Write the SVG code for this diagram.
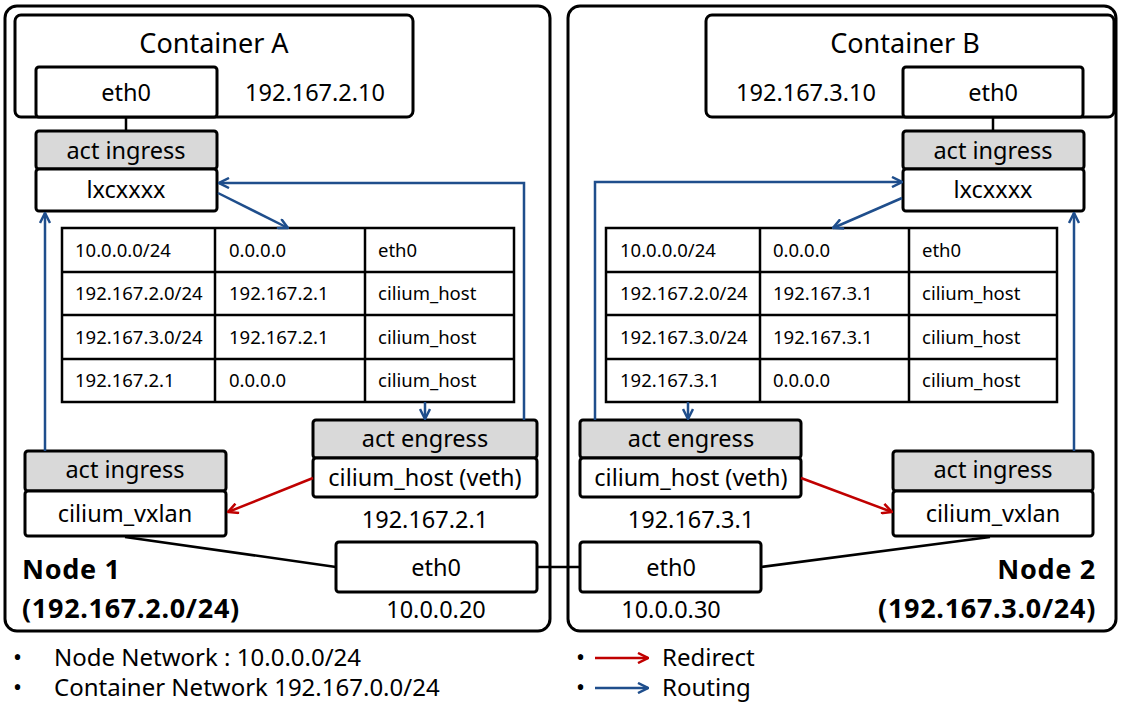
<svg xmlns="http://www.w3.org/2000/svg" width="1122" height="707" viewBox="0 0 1122 707">
<defs>
<style>
.node{fill:#fff;stroke:#000;stroke-width:3}
.box{fill:#fff;stroke:#000;stroke-width:3}
.hdr{fill:#d9d9d9;stroke:#000;stroke-width:3}
.t{font-family:"Noto Sans","Noto Sans CJK KR",sans-serif;font-size:23.5px;fill:#000}
.c{text-anchor:middle}
.r{text-anchor:end}
.b{font-weight:bold;font-size:27px;letter-spacing:0.7px}
.ttl{font-size:27px}
.lg{font-size:24px}
.tt{font-family:"Noto Sans","Noto Sans CJK KR",sans-serif;font-size:18.5px;fill:#000}
.grid{fill:#fff;stroke:#000;stroke-width:2.5}
.gl{stroke:#000;stroke-width:2.5}
.blue{fill:none;stroke:#1f4e8c;stroke-width:2.5}
.red{fill:none;stroke:#c00000;stroke-width:2.5}
.blk{fill:none;stroke:#000;stroke-width:2.5}
</style>
<marker id="ab" viewBox="0 0 12 12" refX="11" refY="6" markerWidth="12" markerHeight="12" markerUnits="userSpaceOnUse" orient="auto">
<path d="M1,1 L11,6 L1,11" fill="none" stroke="#1f4e8c" stroke-width="2.5"/>
</marker>
<marker id="ar" viewBox="0 0 12 12" refX="11" refY="6" markerWidth="12" markerHeight="12" markerUnits="userSpaceOnUse" orient="auto">
<path d="M1,1 L11,6 L1,11" fill="none" stroke="#c00000" stroke-width="2.5"/>
</marker>
</defs>
<rect width="1122" height="707" fill="#fff"/>

<g id="node1">
<rect class="node" x="5" y="6" width="545" height="625" rx="12"/>
<text class="t b" x="22" y="579">Node 1</text>
<text class="t b" x="22" y="618">(192.167.2.0/24)</text>
</g>
<g id="node2">
<rect class="node" x="568" y="6" width="548" height="625" rx="12"/>
<text class="t b r" x="1096" y="579">Node 2</text>
<text class="t b r" x="1096" y="618">(192.167.3.0/24)</text>
</g>

<g id="containerA">
<rect class="box" x="15" y="15" width="398" height="102" rx="6"/>
<text class="t c ttl" x="214" y="53">Container A</text>
<rect class="box" x="36" y="67" width="181" height="50" rx="3"/>
<text class="t c" x="126" y="101">eth0</text>
<text class="t c" x="315" y="101">192.167.2.10</text>
</g>
<g id="lxcA">
<rect class="hdr" x="36" y="131" width="181" height="38" rx="3"/>
<rect class="box" x="36" y="169" width="181" height="42" rx="3"/>
<text class="t c" x="126" y="159">act ingress</text>
<text class="t c" x="126" y="198">lxcxxxx</text>
</g>
<g id="tableA">
<rect class="grid" x="62" y="228" width="452" height="174"/>
<line class="gl" x1="62" y1="272" x2="514" y2="272"/>
<line class="gl" x1="62" y1="315" x2="514" y2="315"/>
<line class="gl" x1="62" y1="359" x2="514" y2="359"/>
<line class="gl" x1="215" y1="228" x2="215" y2="402"/>
<line class="gl" x1="365" y1="228" x2="365" y2="402"/>
<text class="tt" x="75" y="257">10.0.0.0/24</text>
<text class="tt" x="229" y="257">0.0.0.0</text>
<text class="tt" x="378" y="257">eth0</text>
<text class="tt" x="75" y="300">192.167.2.0/24</text>
<text class="tt" x="229" y="300">192.167.2.1</text>
<text class="tt" x="378" y="300">cilium_host</text>
<text class="tt" x="75" y="344">192.167.3.0/24</text>
<text class="tt" x="229" y="344">192.167.2.1</text>
<text class="tt" x="378" y="344">cilium_host</text>
<text class="tt" x="75" y="387">192.167.2.1</text>
<text class="tt" x="229" y="387">0.0.0.0</text>
<text class="tt" x="378" y="387">cilium_host</text>
</g>
<g id="hostA">
<rect class="hdr" x="313" y="420" width="224" height="38" rx="3"/>
<rect class="box" x="313" y="458" width="224" height="39" rx="3"/>
<text class="t c" x="425" y="447">act engress</text>
<text class="t c" x="425" y="486">cilium_host (veth)</text>
<text class="t c" x="425" y="528">192.167.2.1</text>
</g>
<g id="vxlanA">
<rect class="hdr" x="25" y="451" width="201" height="40" rx="3"/>
<rect class="box" x="25" y="491" width="201" height="45" rx="3"/>
<text class="t c" x="125" y="478">act ingress</text>
<text class="t c" x="125" y="522">cilium_vxlan</text>
</g>
<g id="eth0A">
<rect class="box" x="336" y="542" width="201" height="50" rx="3"/>
<text class="t c" x="436" y="576">eth0</text>
<text class="t c" x="436" y="618">10.0.0.20</text>
</g>

<g id="containerB">
<rect class="box" x="706" y="15" width="408" height="102" rx="6"/>
<text class="t c ttl" x="905" y="53">Container B</text>
<rect class="box" x="903" y="67" width="180" height="50" rx="3"/>
<text class="t c" x="993" y="101">eth0</text>
<text class="t c" x="806" y="101">192.167.3.10</text>
</g>
<g id="lxcB">
<rect class="hdr" x="903" y="131" width="181" height="38" rx="3"/>
<rect class="box" x="903" y="169" width="181" height="42" rx="3"/>
<text class="t c" x="993" y="159">act ingress</text>
<text class="t c" x="993" y="198">lxcxxxx</text>
</g>
<g id="tableB">
<rect class="grid" x="606" y="228" width="451" height="174"/>
<line class="gl" x1="606" y1="272" x2="1057" y2="272"/>
<line class="gl" x1="606" y1="315" x2="1057" y2="315"/>
<line class="gl" x1="606" y1="359" x2="1057" y2="359"/>
<line class="gl" x1="760" y1="228" x2="760" y2="402"/>
<line class="gl" x1="909" y1="228" x2="909" y2="402"/>
<text class="tt" x="620" y="257">10.0.0.0/24</text>
<text class="tt" x="773" y="257">0.0.0.0</text>
<text class="tt" x="922" y="257">eth0</text>
<text class="tt" x="620" y="300">192.167.2.0/24</text>
<text class="tt" x="773" y="300">192.167.3.1</text>
<text class="tt" x="922" y="300">cilium_host</text>
<text class="tt" x="620" y="344">192.167.3.0/24</text>
<text class="tt" x="773" y="344">192.167.3.1</text>
<text class="tt" x="922" y="344">cilium_host</text>
<text class="tt" x="620" y="387">192.167.3.1</text>
<text class="tt" x="773" y="387">0.0.0.0</text>
<text class="tt" x="922" y="387">cilium_host</text>
</g>
<g id="hostB">
<rect class="hdr" x="580" y="420" width="221" height="38" rx="3"/>
<rect class="box" x="580" y="458" width="221" height="39" rx="3"/>
<text class="t c" x="691" y="447">act engress</text>
<text class="t c" x="691" y="486">cilium_host (veth)</text>
<text class="t c" x="691" y="528">192.167.3.1</text>
</g>
<g id="vxlanB">
<rect class="hdr" x="893" y="451" width="200" height="40" rx="3"/>
<rect class="box" x="893" y="491" width="200" height="45" rx="3"/>
<text class="t c" x="993" y="478">act ingress</text>
<text class="t c" x="993" y="522">cilium_vxlan</text>
</g>
<g id="eth0B">
<rect class="box" x="580" y="542" width="181" height="50" rx="3"/>
<text class="t c" x="671" y="576">eth0</text>
<text class="t c" x="671" y="618">10.0.0.30</text>
</g>

<g id="connectors">
<line class="blk" x1="126" y1="117" x2="126" y2="131"/>
<line class="blk" x1="993" y1="117" x2="993" y2="131"/>
<line class="blue" x1="218" y1="193" x2="288" y2="228" marker-end="url(#ab)"/>
<polyline class="blue" points="524,420 524,183 219,183" marker-end="url(#ab)"/>
<line class="blue" x1="425" y1="402" x2="425" y2="419" marker-end="url(#ab)"/>
<line class="blue" x1="45" y1="451" x2="45" y2="213" marker-end="url(#ab)"/>
<line class="red" x1="313" y1="478" x2="228" y2="512" marker-end="url(#ar)"/>
<line class="blk" x1="125" y1="537" x2="336" y2="567"/>
<line class="blk" x1="537" y1="567" x2="580" y2="567"/>
<line class="blue" x1="902" y1="198" x2="833" y2="228" marker-end="url(#ab)"/>
<polyline class="blue" points="595,420 595,182 902,182" marker-end="url(#ab)"/>
<line class="blue" x1="688" y1="402" x2="688" y2="419" marker-end="url(#ab)"/>
<line class="blue" x1="1074" y1="451" x2="1074" y2="213" marker-end="url(#ab)"/>
<line class="red" x1="801" y1="478" x2="892" y2="512" marker-end="url(#ar)"/>
<line class="blk" x1="761" y1="567" x2="990" y2="537"/>
</g>

<g id="legend">
<text class="t lg" x="13" y="666">•</text>
<text class="t lg" x="54" y="666">Node Network : 10.0.0.0/24</text>
<text class="t lg" x="13" y="696">•</text>
<text class="t lg" x="54" y="696">Container Network 192.167.0.0/24</text>
<text class="t lg" x="576" y="666">•</text>
<line class="red" x1="595" y1="658" x2="648" y2="658" marker-end="url(#ar)"/>
<text class="t lg" x="662" y="666">Redirect</text>
<text class="t lg" x="576" y="696">•</text>
<line class="blue" x1="595" y1="688" x2="648" y2="688" marker-end="url(#ab)"/>
<text class="t lg" x="662" y="696">Routing</text>
</g>
</svg>
